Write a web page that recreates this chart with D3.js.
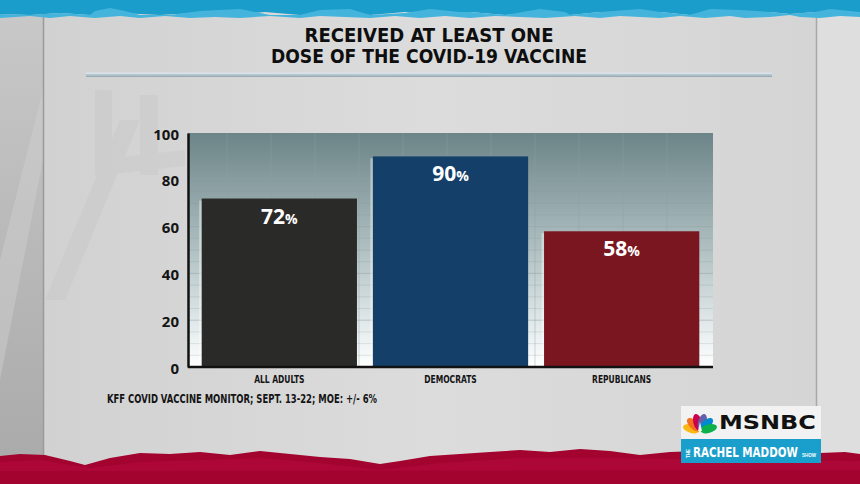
<!DOCTYPE html>
<html><head><meta charset="utf-8">
<script src="https://cdn.jsdelivr.net/npm/d3@7"></script>
<style>body{margin:0;background:#d6d6d6;overflow:hidden}svg{display:block}</style>
</head><body>
<svg id="chart" width="860" height="484"></svg>
<script>
// ---- data ----
const categories = ["ALL ADULTS", "DEMOCRATS", "REPUBLICANS"];
const values = [72, 90, 58];
const barColors = ["#2a2a28", "#143f69", "#7a1620"];
const yTicks = [0, 20, 40, 60, 80, 100];
const titleLines = ["RECEIVED AT LEAST ONE", "DOSE OF THE COVID-19 VACCINE"];
const sourceNote = "KFF COVID VACCINE MONITOR; SEPT. 13-22; MOE: +/- 6%";

const W = 860, H = 484;
const svg = d3.select("#chart");
const defs = svg.append("defs");
const narrow = "'Liberation Sans Narrow','DejaVu Sans Condensed',sans-serif";

// fit a text element horizontally to a target width with a transform (keeps bbox honest)
function fitWidth(sel, x0, y0, target, anchor) {
  sel.attr("x", 0).attr("y", 0);
  const L = sel.node().getComputedTextLength();
  const s = target / L;
  sel.attr("transform", `translate(${x0},${y0}) scale(${s},1)`);
}

// ---- background ----
const pg = defs.append("linearGradient").attr("id","panelG").attr("x1",0).attr("x2",1).attr("y1",0).attr("y2",0);
pg.append("stop").attr("offset",0).attr("stop-color","#d0d0d0");
pg.append("stop").attr("offset",0.5).attr("stop-color","#dcdcdc");
pg.append("stop").attr("offset",1).attr("stop-color","#d4d4d4");
const lg = defs.append("linearGradient").attr("id","leftG").attr("x1",0).attr("x2",0).attr("y1",0).attr("y2",1);
lg.append("stop").attr("offset",0).attr("stop-color","#c9c9c9");
lg.append("stop").attr("offset",1).attr("stop-color","#a9a9a9");

svg.append("rect").attr("width",W).attr("height",H).attr("fill","url(#panelG)");
svg.append("rect").attr("x",0).attr("y",0).attr("width",43).attr("height",H).attr("fill","url(#leftG)");
svg.append("path").attr("d","M0,260 L43,90 L43,160 L0,380Z").attr("fill","#d0d0d0").attr("opacity",0.45);
svg.append("rect").attr("x",817).attr("y",0).attr("width",43).attr("height",H).attr("fill","#dedede");
svg.append("line").attr("x1",43.5).attr("x2",43.5).attr("y1",0).attr("y2",H).attr("stroke","#9a9a9a").attr("stroke-width",1.5);
svg.append("line").attr("x1",816.5).attr("x2",816.5).attr("y1",0).attr("y2",H).attr("stroke","#a8a8a8").attr("stroke-width",1.5);

// faint watermark shapes
svg.append("g").attr("opacity",0.03).attr("fill","#444")
  .selectAll("path").data([
    "M95,90 L112,90 L112,170 L95,170Z",
    "M140,95 L158,95 L158,175 L140,175Z",
    "M95,160 L185,150 L185,166 L95,176Z",
    "M45,300 L120,120 L140,120 L65,300Z"
  ]).join("path").attr("d", d => d);

// top torn blue band
svg.append("path").attr("fill","#1a9dca")
  .attr("d","M0,0 H860 V13 L840,15 L815,12 L790,14 L770,12 L745,15 L720,12 L690,15 L660,12 L630,15 L600,12 L570,15 L540,12 L505,15 L470,12 L440,15 L405,12 L370,15 L340,12 L300,15 L265,12 L230,15 L195,13 L160,15 L120,13 L90,15 L60,13 L30,15 L0,14Z");
svg.append("path").attr("fill","#45b4dc")
  .attr("d","M0,14 L30,15 L60,13 L90,15 L95,11 L110,8 L125,11 L140,15 L170,15 L200,11 L240,9 L270,15 L300,15 L320,10 L350,9 L370,15 L405,13 L430,9 L460,12 L470,12 L505,15 L540,9 L565,12 L570,15 L600,12 L640,9 L660,12 L690,15 L710,9 L740,10 L770,12 L790,14 L815,12 L830,9 L860,12 V17 L840,16 L820,18 L800,17 L790,15 L770,17 L745,18 L730,16 L705,18 L680,16 L660,18 L640,17 L620,16 L600,18 L575,16 L545,18 L520,17 L495,16 L470,18 L445,16 L420,18 L395,16 L370,18 L345,17 L320,16 L300,18 L270,16 L240,18 L215,17 L190,18 L165,16 L140,18 L120,16 L95,18 L70,16 L50,18 L30,16 L0,18Z");

// bottom torn crimson band
svg.append("path").attr("fill","#a3032f")
  .attr("d","M0,456 L20,454 L45,455 L70,461 L85,465 L110,458 L140,453 L170,454 L200,452 L230,455 L260,451 L290,454 L320,457 L350,459 L380,464 L400,461 L430,456 L460,454 L490,452 L520,450 L550,452 L580,449 L610,451 L640,455 L670,452 L700,451 L740,452 L780,451 L820,453 L845,452 L860,454 V484 H0Z");
svg.append("path").attr("fill","#b40a3e").attr("opacity",0.6)
  .attr("d","M0,462 L40,460 L90,468 L140,462 L200,460 L260,458 L320,463 L380,470 L440,463 L520,458 L600,458 L680,459 L760,460 L860,461 V470 L0,471Z");

// ---- title ----
const title = svg.append("g").attr("font-family",narrow)
  .attr("font-weight",700).attr("font-size",19).attr("fill","#0e0e0e").attr("text-anchor","middle");
const titleWidths = [249, 316];
const titleBase = [41.5, 63];
titleLines.forEach((t,i) => {
  title.append("text").attr("x",429).attr("y",titleBase[i])
    .attr("textLength",titleWidths[i]).attr("lengthAdjust","spacingAndGlyphs").text(t);
});
// rule
svg.append("rect").attr("x",86).attr("y",72.5).attr("width",686).attr("height",4).attr("fill","#b7c7cf");
svg.append("rect").attr("x",86).attr("y",72.5).attr("width",686).attr("height",1.2).attr("fill","#e6edf1");
svg.append("rect").attr("x",86).attr("y",75.8).attr("width",686).attr("height",1).attr("fill","#8fa2ac");

// ---- plot ----
const plot = {left:188, right:713, top:133, bottom:367};
const x = d3.scaleBand().domain(categories).range([plot.left, plot.right]).paddingInner(0.093).paddingOuter(0.08);
const y = d3.scaleLinear().domain([0,100]).range([plot.bottom, plot.top]);

const bg = defs.append("linearGradient").attr("id","plotG").attr("x1",0).attr("x2",0).attr("y1",0).attr("y2",1);
bg.append("stop").attr("offset",0).attr("stop-color","#6c8588");
bg.append("stop").attr("offset",0.45).attr("stop-color","#a9babc");
bg.append("stop").attr("offset",0.8).attr("stop-color","#dfe7e8");
bg.append("stop").attr("offset",1).attr("stop-color","#ffffff");
svg.append("rect").attr("x",plot.left).attr("y",plot.top).attr("width",plot.right-plot.left)
  .attr("height",plot.bottom-plot.top).attr("fill","url(#plotG)");

// grid
const grid = svg.append("g");
grid.selectAll("line.minor").data(d3.range(5,100,5).filter(v => v%20!==0)).join("line")
  .attr("x1",plot.left).attr("x2",plot.right).attr("y1",d=>y(d)).attr("y2",d=>y(d))
  .attr("stroke","#7f9598").attr("stroke-opacity",0.22).attr("stroke-width",1);
grid.selectAll("line.major").data(yTicks.slice(1,-1)).join("line")
  .attr("x1",plot.left).attr("x2",plot.right).attr("y1",d=>y(d)).attr("y2",d=>y(d))
  .attr("stroke","#8fa3a6").attr("stroke-opacity",0.5).attr("stroke-width",1);
const gx = d3.scaleLinear().domain([0,12]).range([plot.left-5, plot.right-2]);
grid.selectAll("line.v").data(d3.range(1,12)).join("line")
  .attr("x1",d=>gx(d)).attr("x2",d=>gx(d)).attr("y1",plot.top).attr("y2",plot.bottom)
  .attr("stroke","#8fa3a6").attr("stroke-opacity",0.4).attr("stroke-width",1);

// bars
const bars = svg.append("g");
bars.selectAll("rect.hl").data(values).join("rect")
  .attr("x",(d,i)=>x(categories[i])-2.5).attr("y",d=>y(d)+2).attr("width",x.bandwidth())
  .attr("height",d=>plot.bottom-y(d)-2).attr("fill","#ffffff").attr("opacity",0.4);
bars.selectAll("rect.bar").data(values).join("rect")
  .attr("x",(d,i)=>x(categories[i])).attr("y",d=>y(d)).attr("width",x.bandwidth())
  .attr("height",d=>plot.bottom-y(d)).attr("fill",(d,i)=>barColors[i]);

// value labels
const vl = bars.selectAll("text.val").data(values).join("text")
  .attr("x",(d,i)=>x(categories[i])+x.bandwidth()/2).attr("y",d=>y(d)+25)
  .attr("text-anchor","middle").attr("fill","#ffffff")
  .attr("font-family","'Open Sans',sans-serif").attr("font-weight",700);
vl.append("tspan").attr("font-size",21).text(d=>d);
vl.append("tspan").attr("font-size",14).text("%");

// axes
const yAxis = svg.append("g").attr("transform",`translate(${plot.left},0)`)
  .call(d3.axisLeft(y).tickValues(yTicks).tickSize(0).tickPadding(9).tickFormat(d3.format("d")));
yAxis.select(".domain").attr("stroke","#111").attr("stroke-width",2.5);
yAxis.selectAll("text").attr("font-family","'Open Sans',sans-serif").attr("font-weight",700)
  .attr("font-size",15).attr("fill","#141414").attr("dy","0.4em");

const xAxis = svg.append("g").attr("transform",`translate(0,${plot.bottom})`)
  .call(d3.axisBottom(x).tickSize(0).tickPadding(7));
xAxis.select(".domain").attr("stroke","#111").attr("stroke-width",2.5)
  .attr("d",`M${plot.left},0H${plot.right}`);
xAxis.selectAll("text").attr("font-family",narrow)
  .attr("font-weight",700).attr("font-size",10.5).attr("fill","#141414").attr("dy","0.9em")
  .each(function(){ const L = this.getComputedTextLength(); d3.select(this).attr("textLength", L*0.8).attr("lengthAdjust","spacingAndGlyphs"); });

// source note
svg.append("text").attr("x",107).attr("y",403)
  .attr("font-family",narrow)
  .attr("font-weight",700).attr("font-size",13).attr("fill","#141414")
  .attr("textLength",270).attr("lengthAdjust","spacingAndGlyphs").text(sourceNote);

// ---- MSNBC logo ----
const logo = svg.append("g");
logo.append("rect").attr("x",681).attr("y",406).attr("width",140).attr("height",33).attr("fill","#f2f2f2");
logo.append("rect").attr("x",681).attr("y",439).attr("width",140).attr("height",24).attr("fill","#1a9ecb");
const feathers = ["#fcb711","#f37021","#cc004c","#6460aa","#0089d0","#0db14b"];
const cx0 = 700, cy0 = 431;
feathers.forEach((c,i) => {
  const ang = -75 + i*30;
  logo.append("ellipse").attr("cx",0).attr("cy",-9).attr("rx",4.3).attr("ry",8.5).attr("fill",c)
    .attr("transform",`translate(${cx0},${cy0}) rotate(${ang})`);
});
logo.append("path").attr("d",`M${cx0-2},${cy0} L${cx0},${cy0-9} L${cx0+2},${cy0}Z`).attr("fill","#f2f2f2");
const msnbc = logo.append("text")
  .attr("font-family","'DejaVu Sans','Liberation Sans',sans-serif").attr("font-weight",700)
  .attr("font-size",19).attr("fill","#111").text("MSNBC");
fitWidth(msnbc, 719, 429, 97);
logo.append("text").attr("transform","translate(690,458) rotate(-90)")
  .attr("font-family","'Liberation Sans',sans-serif").attr("font-weight",700).attr("font-size",4.5)
  .attr("fill","#fff").text("THE");
const rm = logo.append("text")
  .attr("font-family",narrow).attr("font-weight",700)
  .attr("font-size",13.5).attr("fill","#fff").text("RACHEL MADDOW");
fitWidth(rm, 693, 457, 105);
logo.append("text").attr("x",802).attr("y",457)
  .attr("font-family","'Liberation Sans',sans-serif").attr("font-weight",700).attr("font-size",4.5)
  .attr("fill","#fff").text("SHOW");
</script>
</body></html>
